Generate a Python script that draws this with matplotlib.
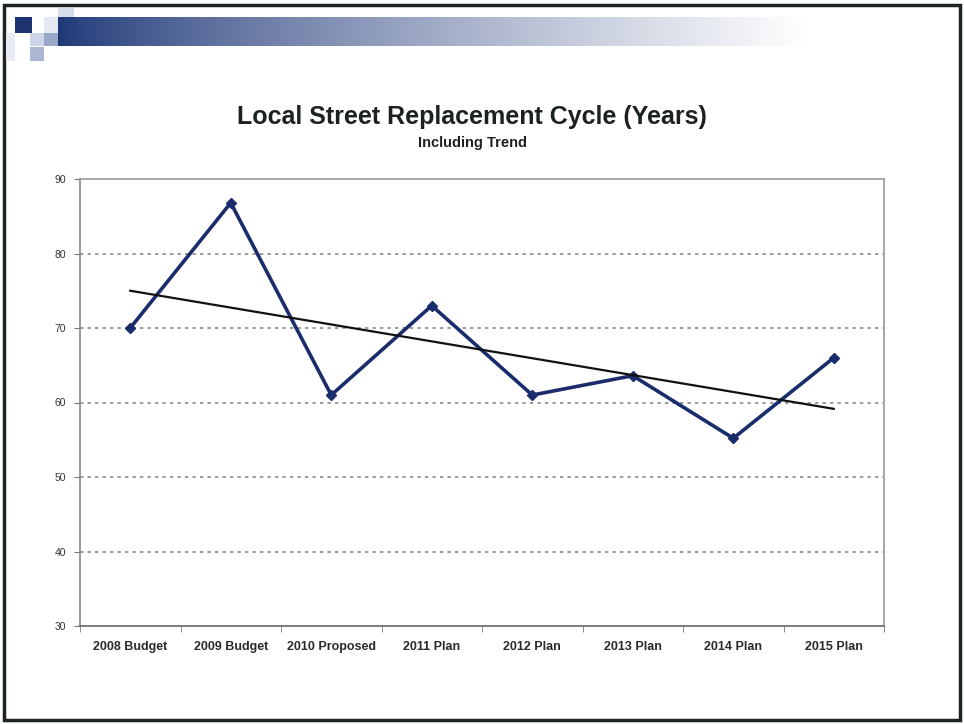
import numpy as np
import matplotlib
matplotlib.use("Agg")
import matplotlib.pyplot as plt
from matplotlib.patches import Rectangle

plt.rcParams['font.family'] = ['Liberation Sans', 'DejaVu Sans']

categories = ["2008 Budget", "2009 Budget", "2010 Proposed", "2011 Plan",
              "2012 Plan", "2013 Plan", "2014 Plan", "2015 Plan"]
cycle_years = [70, 86.8, 61, 73, 61, 63.6, 55.2, 66]
y_ticks = [30, 40, 50, 60, 70, 80, 90]

W, H = 964, 724
fig = plt.figure(figsize=(W / 100, H / 100), dpi=100)

def px(x, y, w, h):
    # pixel box (top-left origin) -> figure fraction
    return [x / W, 1 - (y + h) / H, w / W, h / H]

# slide frame
fig.patches.append(Rectangle((4 / W, 4 / H), 956 / W, 715 / H, transform=fig.transFigure,
                             fill=False, ec='#1c2424', lw=2.5))

# header banner: gradient bar + squares
grad = np.linspace(0, 1, 256) ** 0.8
navy = np.array([0.12, 0.22, 0.47])
cols = navy[None, :] * (1 - grad[:, None]) + np.ones(3)[None, :] * grad[:, None]
bar_img = np.tile(cols[None, :, :], (2, 1, 1))
bax = fig.add_axes(px(58, 17, 750, 29))
bax.imshow(bar_img, aspect='auto', extent=[0, 1, 0, 1])
bax.axis('off')
for (x, y, w, h, c) in [(15, 17, 17, 16, '#1e3470'), (44, 33, 14, 13, '#9aa8c8'),
                        (30, 33, 14, 13, '#cdd5e6'), (30, 47, 14, 14, '#aab6d2'),
                        (58, 8, 16, 9, '#d5dcea'), (44, 17, 14, 16, '#e4e8f1'),
                        (6, 33, 9, 28, '#e8ebf2')]:
    fig.patches.append(Rectangle((x / W, 1 - (y + h) / H), w / W, h / H,
                                 transform=fig.transFigure, color=c, lw=0))

# chart
ax = fig.add_axes(px(80, 179, 804, 447))
x = np.arange(len(categories))
ax.plot(x, cycle_years, color='#1a2c6b', lw=2.6, marker='D', ms=5.5, zorder=3)
slope, icpt = np.polyfit(x, cycle_years, 1)
ax.plot(x, slope * x + icpt, color='#111111', lw=1.6, zorder=4)

ax.set_xlim(-0.5, len(categories) - 0.5)
ax.set_ylim(30, 90)
ax.set_yticks(y_ticks)
ax.set_yticklabels([str(t) for t in y_ticks], fontsize=7.5, color='#333333')
ax.set_xticks(x)
ax.set_xticklabels(categories, fontsize=9, fontweight='bold', color='#2a2a2a')
ax.set_xticks(np.arange(len(categories) + 1) - 0.5, minor=True)
ax.tick_params(axis='x', which='major', length=0, pad=11)
ax.tick_params(axis='x', which='minor', length=4, color='#777777')
ax.tick_params(axis='y', length=4, color='#777777', pad=6)

for v in y_ticks[1:-1]:
    ax.axhline(v, color='#8a8a8a', lw=1.2, ls=(0, (2, 2.5)), zorder=1)
for s in ax.spines.values():
    s.set_color('#9a9a9a')
    s.set_linewidth(1.2)
ax.spines['left'].set_color('#888888')
ax.spines['bottom'].set_color('#666666')

fig.text(472 / W, 1 - 117 / H, "Local Street Replacement Cycle (Years)",
         ha='center', va='center', fontsize=18, fontweight='bold', color='#1c2222')
fig.text(472 / W, 1 - 143 / H, "Including Trend",
         ha='center', va='center', fontsize=10.5, fontweight='bold', color='#1c2222')

fig.savefig("out.png", dpi=100)
